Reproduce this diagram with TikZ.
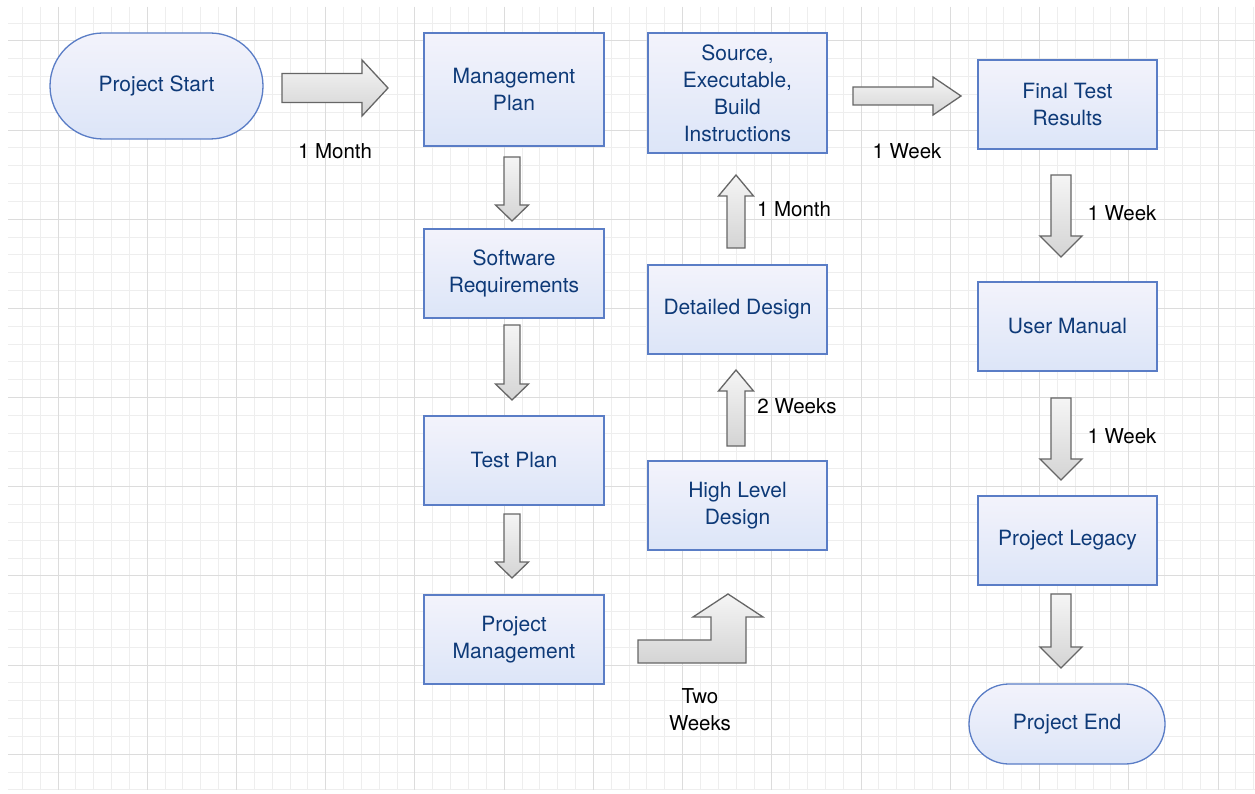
\documentclass[tikz,border=0pt]{standalone}
\usepackage{fontspec}
\setmainfont{TeX Gyre Heros}
\definecolor{gridminor}{HTML}{EEEEEE}
\definecolor{gridmajor}{HTML}{DCDCDC}
\definecolor{boxline}{HTML}{5A7DC6}
\definecolor{boxtop}{HTML}{F3F3FB}
\definecolor{boxbot}{HTML}{DCE5F8}
\definecolor{boxtext}{HTML}{0E3A78}
\definecolor{arrline}{HTML}{666666}
\definecolor{arrtop}{HTML}{F5F5F5}
\definecolor{arrbot}{HTML}{D4D4D4}
\newcommand{\varrowshape}[6]{% cx, ystart, ybase, ytip, bodyw, headw
  \draw[blockarrow] ({#1-#5/2},#2) -- ({#1+#5/2},#2) -- ({#1+#5/2},#3) -- ({#1+#6/2},#3) -- (#1,#4) -- ({#1-#6/2},#3) -- ({#1-#5/2},#3) -- cycle;}
\newcommand{\harrowshape}[6]{% cy, xstart, xbase, xtip, bodyh, headh
  \draw[blockarrow] (#2,{#1-#5/2}) -- (#3,{#1-#5/2}) -- (#3,{#1-#6/2}) -- (#4,#1) -- (#3,{#1+#6/2}) -- (#3,{#1+#5/2}) -- (#2,{#1+#5/2}) -- cycle;}
\begin{document}
\begin{tikzpicture}[x=1pt,y=-1pt,
  box/.style={draw=boxline, line width=1.3pt, top color=boxtop, bottom color=boxbot,
    text=boxtext, font=\fontsize{21}{27}\selectfont, align=center, inner sep=2pt,
    minimum width=180pt, minimum height=89pt},
  terminal/.style={box},
  blockarrow/.style={draw=arrline, line width=1.3pt, top color=arrtop, bottom color=arrbot, line join=miter},
  lbl/.style={font=\fontsize{20.5}{27}\selectfont, text=black, align=center, inner sep=0pt}]
\useasboundingbox (0,0) rectangle (1255,794);
\fill[white] (0,0) rectangle (1255,794);
% grid
\foreach \k in {-2,...,67} {
  \pgfmathsetmacro\gx{58+17.846*\k}
  \draw[gridminor, line width=1pt] (\gx,7) -- (\gx,790);
}
\foreach \j in {-1,...,42} {
  \pgfmathsetmacro\gy{41+17.83*\j}
  \draw[gridminor, line width=1pt] (8,\gy) -- (1255,\gy);
}
\foreach \m in {0,...,13} {
  \pgfmathsetmacro\gx{58+89.23*\m}
  \draw[gridmajor, line width=1pt] (\gx,7) -- (\gx,790);
}
\foreach \m in {0,...,8} {
  \pgfmathsetmacro\gy{41+89.15*\m}
  \draw[gridmajor, line width=1pt] (8,\gy) -- (1255,\gy);
}
% nodes
\node[terminal, minimum width=213pt, minimum height=106pt, rounded corners=53pt] (start) at (156.5,86) {Project Start};
\node[box, minimum height=113pt] (mp) at (514,89.5) {Management\\Plan};
\node[box] (sr) at (514,273.5) {Software\\Requirements};
\node[box] (tp) at (514,460.5) {Test Plan};
\node[box] (pm) at (514,639.5) {Project\\Management};
\node[box, minimum width=179pt, minimum height=120pt] (src) at (737.5,93) {Source,\\Executable,\\Build\\Instructions};
\node[box, minimum width=179pt] (dd) at (737.5,309.5) {Detailed Design};
\node[box, minimum width=179pt] (hld) at (737.5,505.5) {High Level\\Design};
\node[box, minimum width=179pt] (ftr) at (1067.5,104.5) {Final Test\\Results};
\node[box, minimum width=179pt] (um) at (1067.5,326.5) {User Manual};
\node[box, minimum width=179pt] (pl) at (1067.5,540.5) {Project Legacy};
\node[terminal, minimum width=196pt, minimum height=80pt, rounded corners=40pt] (end) at (1067,724) {Project End};
% block arrows
\harrowshape{88}{282}{362}{388}{29}{56}
\harrowshape{96}{853}{933}{961}{18}{38}
\varrowshape{512}{157}{205}{221}{16}{33}
\varrowshape{512}{325}{384}{400}{16}{33}
\varrowshape{512}{514}{562}{578}{16}{33}
\varrowshape{736}{248}{196}{175}{18}{35}
\varrowshape{736}{446}{391}{370}{18}{35}
\varrowshape{1061}{175}{236}{257}{20}{42}
\varrowshape{1061}{398}{459}{480}{20}{42}
\varrowshape{1061}{594}{647}{668}{20}{42}
\draw[blockarrow] (638,663) -- (746,663) -- (746,617) -- (763,617) -- (728,594) -- (693,617) -- (711,617) -- (711,640) -- (638,640) -- cycle;
% labels
\node[lbl] (l1) at (335,151) {1 Month};
\node[lbl] (l2) at (907,151) {1 Week};
\node[lbl] (l3) at (794,209) {1 Month};
\node[lbl] (l4) at (797,406) {2 Weeks};
\node[lbl] (l5) at (1122,213) {1 Week};
\node[lbl] (l6) at (1122,436) {1 Week};
\node[lbl] (l7) at (700,710) {Two\\Weeks};
\end{tikzpicture}
\end{document}
